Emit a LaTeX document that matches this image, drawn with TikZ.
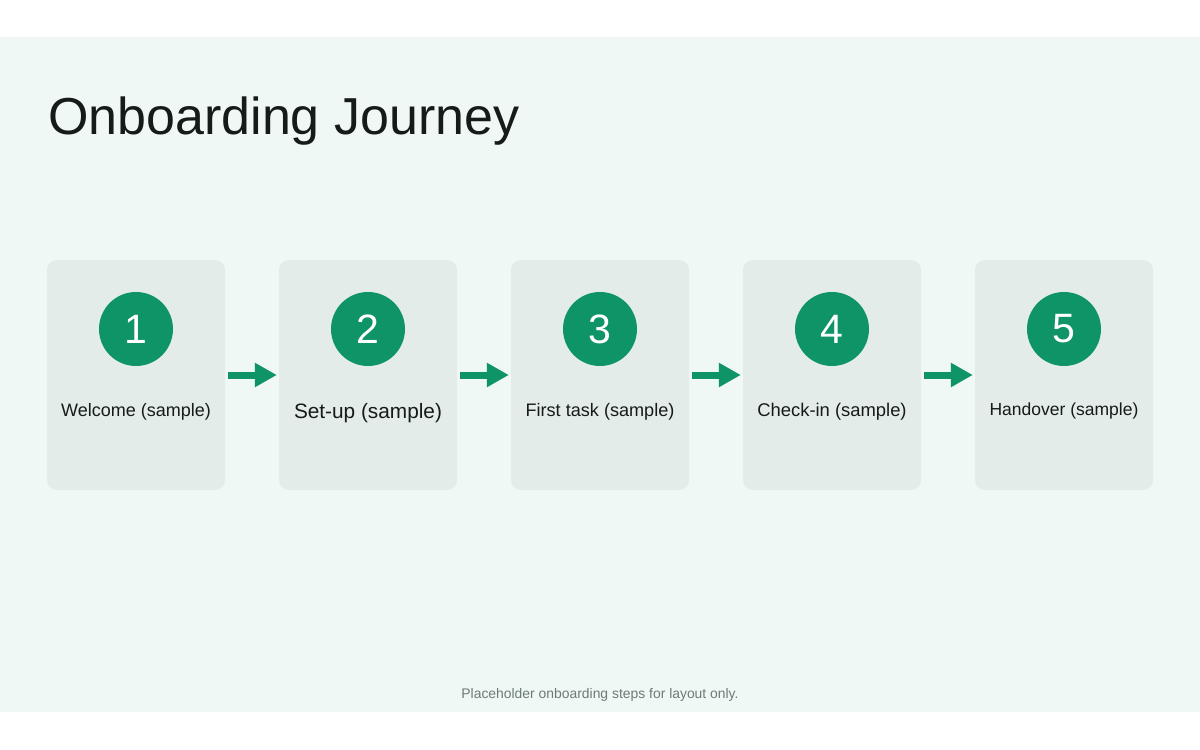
\documentclass[tikz,border=0pt]{standalone}
\usepackage{fontspec}
\setmainfont{Liberation Sans}
\usetikzlibrary{arrows.meta}

\definecolor{pagebg}{HTML}{EFF8F5}
\definecolor{boxgrey}{HTML}{E3ECE9}
\definecolor{stepgreen}{HTML}{0E9467}
\definecolor{inkdark}{HTML}{141B18}
\definecolor{inkgrey}{HTML}{6C7B76}

\begin{document}
\begin{tikzpicture}
  [x=1pt,y=-1pt,
   stepbox/.style={fill=boxgrey,rounded corners=10pt,minimum width=178pt,minimum height=230pt,inner sep=0pt},
   badge/.style={circle,fill=stepgreen,text=white,minimum size=74pt,inner sep=0pt,font=\fontsize{41pt}{42pt}\selectfont},
   steplabel/.style={anchor=base,text=inkdark,inner sep=0pt},
   flowarrow/.style={draw=stepgreen,line width=7pt,shorten <=3pt,shorten >=2pt,-{Triangle[length=22pt,width=23pt]}}]

  \fill[white] (0,0) rectangle (1200,750);
  \fill[pagebg] (0,37) rectangle (1200,712);

  \node[anchor=base west,inner sep=0pt,text=inkdark,font=\fontsize{52pt}{56pt}\selectfont] (title) at (48,134) {Onboarding Journey};

  \node[stepbox] (s1) at (136,375) {};
  \node[stepbox] (s2) at (368,375) {};
  \node[stepbox] (s3) at (600,375) {};
  \node[stepbox] (s4) at (832,375) {};
  \node[stepbox] (s5) at (1064,375) {};

  \node[badge] (b1) at (136,329) {1};
  \node[badge] (b2) at (368,329) {2};
  \node[badge] (b3) at (600,329) {3};
  \node[badge] (b4) at (832,329) {4};
  \node[badge] (b5) at (1064,329) {5};

  \node[steplabel,font=\fontsize{18pt}{20pt}\selectfont] (l1) at (136,416) {Welcome (sample)};
  \node[steplabel,font=\fontsize{20.8pt}{22pt}\selectfont] (l2) at (368,418) {Set-up (sample)};
  \node[steplabel,font=\fontsize{18.1pt}{20pt}\selectfont] (l3) at (600,416) {First task (sample)};
  \node[steplabel,font=\fontsize{18.4pt}{20pt}\selectfont] (l4) at (832,416) {Check-in (sample)};
  \node[steplabel,font=\fontsize{17.5pt}{20pt}\selectfont] (l5) at (1064,415) {Handover (sample)};

  \foreach \from/\to in {s1/s2,s2/s3,s3/s4,s4/s5}
    \draw[flowarrow] (\from) -- (\to);

  \node[anchor=base,inner sep=0pt,text=inkgrey,font=\fontsize{13.9pt}{15pt}\selectfont] (note) at (600,698) {Placeholder onboarding steps for layout only.};
\end{tikzpicture}
\end{document}
